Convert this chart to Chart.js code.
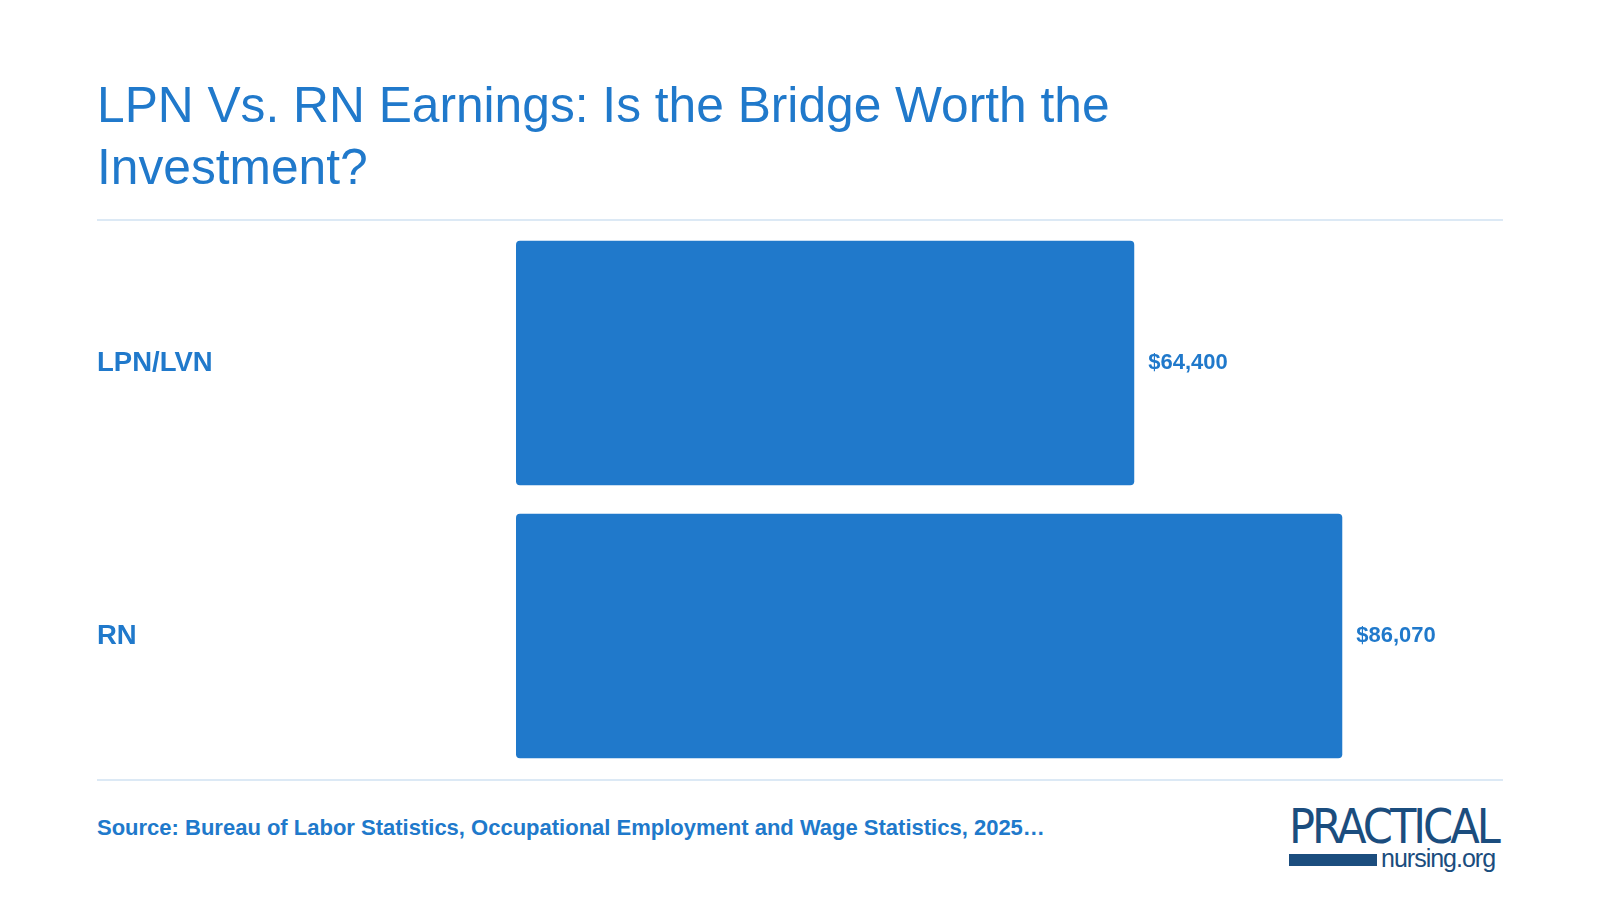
<!DOCTYPE html>
<html><head><meta charset="utf-8">
<script src="https://cdn.jsdelivr.net/npm/chart.js@4/dist/chart.umd.min.js"></script>
<style>
body{margin:0;width:1600px;height:900px;background:#fff;font-family:"Liberation Sans",Arial,sans-serif;position:relative;overflow:hidden}
#title{position:absolute;left:97px;top:74px;width:1150px;color:#2079cb;font-size:49.7px;line-height:62px}
.rule{position:absolute;left:97px;width:1406px;height:2px;background:#dce9f5}
#wrap{position:absolute;left:97px;top:210px;width:1406px;height:579px}
#src{position:absolute;left:97px;top:815px;color:#2079cb;font-weight:bold;font-size:22px}
#logo{position:absolute;left:1289px;top:803px;color:#1b4d7e;width:214px}
#logo .a{font-size:48px;letter-spacing:-3px;line-height:46px;font-family:"DejaVu Sans Condensed","DejaVu Sans";font-weight:300}
#logo .bar{position:absolute;left:0;top:51px;width:88px;height:12px;background:#1b4d7e}
#logo .b{position:absolute;left:92px;top:41px;font-size:25px;letter-spacing:-1px}
</style></head><body>
<div id="title">LPN Vs. RN Earnings: Is the Bridge Worth the Investment?</div>
<div class="rule" style="top:219px"></div>
<div class="rule" style="top:779px"></div>
<div id="wrap"><canvas id="c"></canvas></div>
<div id="src">Source: Bureau of Labor Statistics, Occupational Employment and Wage Statistics, 2025…</div>
<div id="logo"><div class="a">PRACTICAL</div><div class="bar"></div><div class="b">nursing.org</div></div>
<script>
var categories = ['LPN/LVN', 'RN'];
var salaries = [64400, 86070];

var valueLabels = {
  id: 'valueLabels',
  afterDatasetsDraw: function(chart) {
    var ctx = chart.ctx;
    var meta = chart.getDatasetMeta(0);
    ctx.save();
    ctx.fillStyle = '#2079cb';
    ctx.font = 'bold 22px "Liberation Sans", Arial';
    ctx.textBaseline = 'middle';
    meta.data.forEach(function(bar, i) {
      ctx.fillText('$' + salaries[i].toLocaleString('en-US'), bar.x + 14, bar.y);
    });
    ctx.restore();
  }
};

new Chart(document.getElementById('c'), {
  type: 'bar',
  data: {
    labels: categories,
    datasets: [{
      data: salaries,
      backgroundColor: '#2079cb',
      borderRadius: 4,
      borderSkipped: false,
      barPercentage: 0.896,
      categoryPercentage: 1
    }]
  },
  options: {
    indexAxis: 'y',
    responsive: true,
    maintainAspectRatio: false,
    animation: false,
    layout: { padding: { top: 6, bottom: 6, right: 27 } },
    plugins: { legend: { display: false }, tooltip: { enabled: false } },
    scales: {
      x: { min: 0, max: 100000, display: false },
      y: {
        grid: { display: false },
        border: { display: false },
        afterFit: function(s) { s.width = 419; },
        ticks: {
          crossAlign: 'far',
          padding: 0,
          color: '#2079cb',
          font: { family: '"Liberation Sans", Arial', size: 27.5, weight: 'bold' }
        }
      }
    }
  },
  plugins: [valueLabels]
});
</script>
</body></html>
